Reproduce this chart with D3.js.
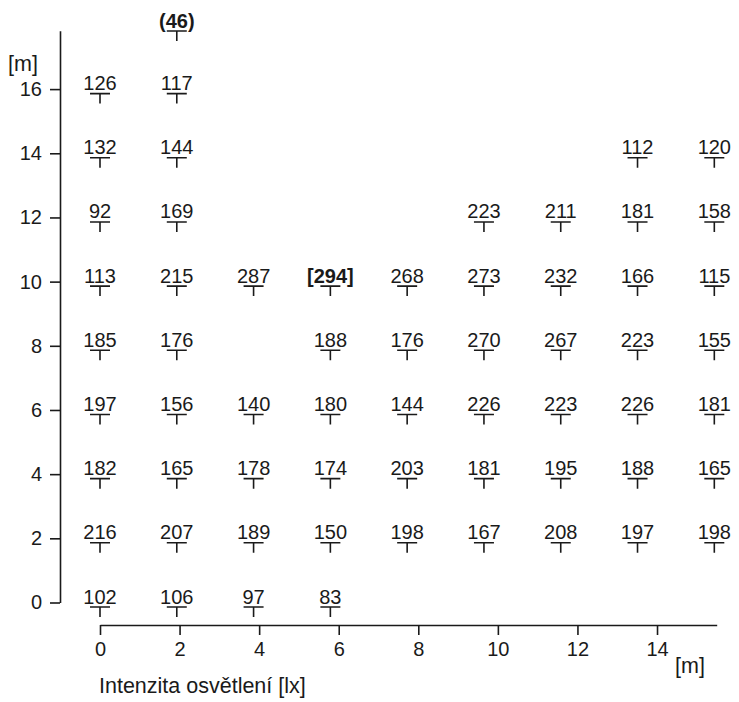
<!DOCTYPE html>
<html>
<head>
<meta charset="utf-8">
<script src="https://cdn.jsdelivr.net/npm/d3@7"></script>
<style>
  html, body { margin: 0; padding: 0; background: #fff; }
  svg { display: block; }
  text { font-family: "Liberation Sans", Arial, sans-serif; fill: #1a1a1a; }
</style>
</head>
<body>
<svg id="chart" width="739" height="702"></svg>
<script>
// Measurement grid positions along the hall (metres)
const columnPositions = [0, 1.93, 3.86, 5.79, 7.72, 9.65, 11.58, 13.51, 15.44];
const rowPositions = [17.95, 16, 14, 12, 10, 8, 6, 4, 2, 0];

// Illuminance readings [lx]; null = no measurement at that spot
const row18 = [null, 46, null, null, null, null, null, null, null];
const row16 = [126, 117, null, null, null, null, null, null, null];
const row14 = [132, 144, null, null, null, null, null, 112, 120];
const row12 = [92, 169, null, null, null, 223, 211, 181, 158];
const row10 = [113, 215, 287, 294, 268, 273, 232, 166, 115];
const row8  = [185, 176, null, 188, 176, 270, 267, 223, 155];
const row6  = [197, 156, 140, 180, 144, 226, 223, 226, 181];
const row4  = [182, 165, 178, 174, 203, 181, 195, 188, 165];
const row2  = [216, 207, 189, 150, 198, 167, 208, 197, 198];
const row0  = [102, 106, 97, 83, null, null, null, null, null];
const rowValues = [row18, row16, row14, row12, row10, row8, row6, row4, row2, row0];

// Highlighted readings: minimum in parentheses, maximum in brackets
const minValue = 46;
const maxValue = 294;

const xTicks = [0, 2, 4, 6, 8, 10, 12, 14];
const yTicks = [0, 2, 4, 6, 8, 10, 12, 14, 16];
const xUnit = "[m]";
const yUnit = "[m]";
const caption = "Intenzita osvětlení [lx]";

const svg = d3.select("#chart");
const fontSize = 20;
const labelSize = 21.5;

const x = d3.scaleLinear().domain([0, 15.5]).range([100, 716.7]);
const y = d3.scaleLinear().domain([0, 17.82]).range([602.5, 30.7]);
const axisX = 60;   // left axis position
const axisY = 625;  // bottom axis position

// Bottom axis
const gx = svg.append("g").attr("transform", `translate(0,${axisY})`)
  .call(d3.axisBottom(x).tickValues(xTicks).tickSize(10).tickSizeOuter(0).tickPadding(7));
gx.select(".domain").attr("stroke", "#1a1a1a").attr("stroke-width", 1.6);
gx.selectAll(".tick line").attr("stroke", "#1a1a1a").attr("stroke-width", 1.6);
gx.selectAll(".tick text").attr("font-size", fontSize).attr("font-family", null).style("fill", "#1a1a1a");

// Left axis
const gy = svg.append("g").attr("transform", `translate(${axisX},0)`)
  .call(d3.axisLeft(y).tickValues(yTicks).tickSize(10).tickSizeOuter(0).tickPadding(8));
gy.select(".domain").attr("stroke", "#1a1a1a").attr("stroke-width", 1.6);
gy.selectAll(".tick line").attr("stroke", "#1a1a1a").attr("stroke-width", 1.6);
gy.selectAll(".tick text").attr("font-size", fontSize).attr("font-family", null).style("fill", "#1a1a1a");

// Unit labels and caption
svg.append("text").attr("x", 8).attr("y", 71).attr("font-size", labelSize).text(yUnit);
svg.append("text").attr("x", 675).attr("y", 673).attr("font-size", labelSize).text(xUnit);
svg.append("text").attr("x", 99).attr("y", 693).attr("font-size", labelSize).text(caption);

// Measurement points
const points = [];
rowValues.forEach((vals, i) => {
  vals.forEach((v, j) => {
    if (v !== null) points.push({ gx: columnPositions[j], gy: rowPositions[i], v });
  });
});

const pg = svg.append("g");
const pt = pg.selectAll("g.pt").data(points).join("g")
  .attr("class", "pt")
  .attr("transform", d => `translate(${x(d.gx)},${y(d.gy)})`);

// T-shaped marker below each reading
pt.append("path")
  .attr("d", "M-10,4.5H10M0,4.5V14.5")
  .attr("stroke", "#1a1a1a").attr("stroke-width", 1.6).attr("fill", "none");

pt.append("text")
  .attr("text-anchor", "middle")
  .attr("y", 1)
  .attr("font-size", fontSize)
  .attr("font-weight", d => (d.v === minValue || d.v === maxValue) ? "bold" : null)
  .text(d => d.v === minValue ? `(${d.v})` : d.v === maxValue ? `[${d.v}]` : d.v);
</script>
</body>
</html>
